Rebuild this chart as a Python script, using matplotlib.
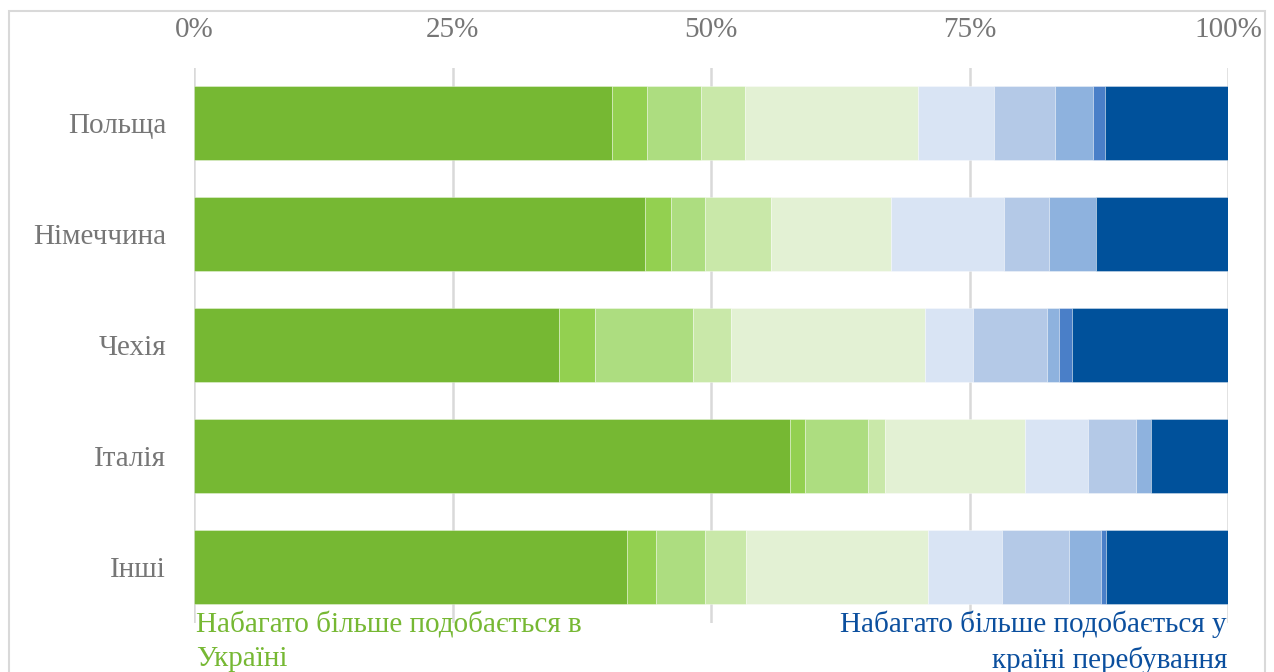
import numpy as np
import matplotlib.pyplot as plt
from matplotlib.patches import Rectangle

# Дані (частки, %), від "набагато більше в Україні" до "набагато більше в країні перебування"
countries = ['Польща', 'Німеччина', 'Чехія', 'Італія', 'Інші']
s1 = [40.4, 43.6, 35.3, 57.6, 41.9]
s2 = [3.4, 2.5, 3.5, 1.5, 2.8]
s3 = [5.2, 3.3, 9.5, 6.1, 4.7]
s4 = [4.3, 6.4, 3.6, 1.6, 4.0]
s5 = [16.7, 11.6, 18.8, 13.6, 17.6]
s6 = [7.4, 10.9, 4.6, 6.1, 7.1]
s7 = [5.9, 4.4, 7.2, 4.6, 6.5]
s8 = [3.6, 4.5, 1.2, 1.5, 3.1]
s9 = [1.2, 0.0, 1.2, 0.0, 0.5]
s10 = [11.9, 12.8, 15.1, 7.4, 11.8]
ticks = [0, 25, 50, 75, 100]
tick_labels = ['0%', '25%', '50%', '75%', '100%']

series = [s1, s2, s3, s4, s5, s6, s7, s8, s9, s10]
colors = ['#76b833', '#93d050', '#addd80', '#c9e8a9', '#e3f1d4',
          '#d9e4f4', '#b4c9e7', '#8eb2de', '#4a7fc8', '#00519b']

fig = plt.figure(figsize=(12.74, 6.72), dpi=100)
fig.patches.append(Rectangle((9 / 1274, -0.1), 1256 / 1274, 1.1 - 11 / 672,
                             transform=fig.transFigure, fill=False,
                             edgecolor='#d9d9d9', linewidth=1.5))

ax = fig.add_axes([194 / 1274, 1 - 622.5 / 672, 1034 / 1274, 554.5 / 672])

data = np.array(series)
data = data / data.sum(axis=0) * 100
y = np.arange(len(countries))
left = np.zeros(len(countries))
for vals, c in zip(data, colors):
    ax.barh(y, vals, left=left, height=0.667, color=c,
            edgecolor=(1, 1, 1, 0.4), linewidth=0.6, zorder=3)
    left += vals

ax.set_xlim(0, 100)
ax.set_ylim(len(countries) - 0.5, -0.5)
ax.set_yticks(y)
ax.set_yticklabels(countries)
ax.set_xticks(ticks)
ax.set_xticklabels(tick_labels)
ax.xaxis.tick_top()
ax.tick_params(axis='x', length=0, pad=18, labelsize=21, labelcolor='#767676')
ax.tick_params(axis='y', length=0, pad=20, labelsize=21, labelcolor='#767676')
for lab in ax.get_xticklabels() + ax.get_yticklabels():
    lab.set_family('Liberation Serif')
ax.grid(axis='x', color='#d9d9d9', linewidth=1.8, zorder=0)
ax.set_axisbelow(True)
for sp in ax.spines.values():
    sp.set_visible(False)

fig.text(196 / 1274, 1 - 642 / 672, 'Набагато більше подобається в\nУкраїні',
         ha='left', va='center', color='#76b833', fontsize=21,
         family='Liberation Serif', linespacing=1.38)
fig.text(1227 / 1274, 1 - 642 / 672, 'Набагато більше подобається у\nкраїні перебування',
         ha='right', va='center', color='#0b4f9e', fontsize=21,
         family='Liberation Serif', linespacing=1.38, multialignment='right')

fig.savefig('out.png', dpi=100)
